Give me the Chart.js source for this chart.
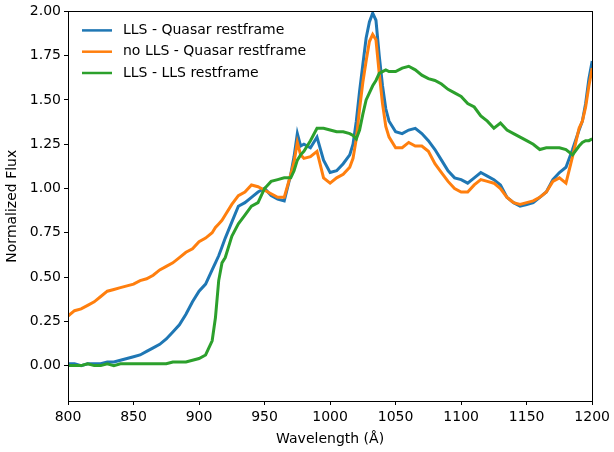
<!DOCTYPE html>
<html>
<head>
<meta charset="utf-8">
<title>Normalized Flux</title>
<script src="https://cdn.jsdelivr.net/npm/chart.js"></script>
<style>
  html, body { margin: 0; padding: 0; background: #fff; }
  #wrap { width: 614px; height: 452px; }
</style>
</head>
<body>
<div id="wrap"><canvas id="chart" width="614" height="452"></canvas></div>
<script>
// wavelength grid (Å)
const wavelength = [
  800, 805, 810, 815, 820, 825, 830, 835, 840, 845, 850, 855, 860, 865, 870, 875,
  880, 885, 890, 895, 900, 905, 910, 912.5, 915, 917.5, 920, 925, 930, 935, 940,
  945, 950, 955, 960, 965, 970, 972.5, 975, 977.5, 980, 985, 990, 995, 1000, 1005,
  1010, 1015, 1017.5, 1020, 1022.5, 1025, 1027.5, 1030, 1032.5, 1035, 1037.5, 1040,
  1042.5, 1045, 1050, 1055, 1060, 1065, 1070, 1075, 1080, 1085, 1090, 1095, 1100,
  1105, 1110, 1115, 1120, 1125, 1130, 1135, 1140, 1145, 1150, 1155, 1160, 1165,
  1170, 1175, 1180, 1185, 1190, 1192.5, 1195, 1197.5, 1200
];

// LLS - Quasar restframe
const llsQuasar = [
  0.01, 0.01, 0.00, 0.01, 0.01, 0.01, 0.02, 0.02, 0.03, 0.04, 0.05, 0.06, 0.08, 0.10, 0.12, 0.15,
  0.19, 0.23, 0.29, 0.36, 0.42, 0.46, 0.54, 0.58, 0.62, 0.67, 0.72, 0.81, 0.90, 0.92, 0.95,
  0.98, 1.00, 0.96, 0.94, 0.93, 1.08, 1.18, 1.31, 1.24, 1.25, 1.23, 1.29, 1.16, 1.09, 1.10,
  1.14, 1.19, 1.25, 1.38, 1.55, 1.70, 1.85, 1.94, 1.99, 1.95, 1.75, 1.58,
  1.45, 1.38, 1.32, 1.31, 1.33, 1.34, 1.31, 1.27, 1.22, 1.16, 1.10, 1.06, 1.05,
  1.03, 1.06, 1.09, 1.07, 1.05, 1.02, 0.95, 0.92, 0.90, 0.91, 0.92, 0.95, 0.98,
  1.05, 1.09, 1.12, 1.22, 1.33, 1.38, 1.48, 1.62, 1.72
];

// no LLS - Quasar restframe
const noLlsQuasar = [
  0.28, 0.31, 0.32, 0.34, 0.36, 0.39, 0.42, 0.43, 0.44, 0.45, 0.46, 0.48, 0.49, 0.51, 0.54, 0.56,
  0.58, 0.61, 0.64, 0.66, 0.70, 0.72, 0.75, 0.78, 0.80, 0.82, 0.85, 0.91, 0.96, 0.98, 1.02,
  1.01, 0.99, 0.97, 0.95, 0.95, 1.08, 1.15, 1.26, 1.19, 1.17, 1.18, 1.21, 1.06, 1.03, 1.06,
  1.08, 1.12, 1.17, 1.28, 1.45, 1.60, 1.72, 1.83, 1.87, 1.84, 1.65, 1.48,
  1.35, 1.29, 1.23, 1.23, 1.26, 1.24, 1.24, 1.21, 1.14, 1.09, 1.04, 1.00, 0.98,
  0.98, 1.02, 1.05, 1.04, 1.03, 1.00, 0.95, 0.92, 0.91, 0.92, 0.93, 0.95, 0.98,
  1.04, 1.06, 1.03, 1.18, 1.34, 1.38, 1.46, 1.58, 1.68
];

// LLS - LLS restframe
const llsLls = [
  0.00, 0.00, 0.00, 0.01, 0.00, 0.00, 0.01, 0.00, 0.01, 0.01, 0.01, 0.01, 0.01, 0.01, 0.01, 0.01,
  0.02, 0.02, 0.02, 0.03, 0.04, 0.06, 0.14, 0.27, 0.48, 0.58, 0.61, 0.73, 0.80, 0.85, 0.90,
  0.92, 1.00, 1.04, 1.05, 1.06, 1.06, 1.10, 1.16, 1.19, 1.21, 1.27, 1.34, 1.34, 1.33, 1.32,
  1.32, 1.31, 1.30, 1.28, 1.33, 1.42, 1.50, 1.54, 1.58, 1.61, 1.65, 1.66,
  1.67, 1.66, 1.66, 1.68, 1.69, 1.67, 1.64, 1.62, 1.61, 1.59, 1.56, 1.54, 1.52,
  1.48, 1.46, 1.41, 1.38, 1.34, 1.37, 1.33, 1.31, 1.29, 1.27, 1.25, 1.22, 1.23,
  1.23, 1.23, 1.22, 1.19, 1.24, 1.26, 1.27, 1.27, 1.28
];

const xTicks = [800, 850, 900, 950, 1000, 1050, 1100, 1150, 1200];
const yTicks = [0, 0.25, 0.5, 0.75, 1.0, 1.25, 1.5, 1.75, 2.0];

const seriesLabels = ['LLS - Quasar restframe', 'no LLS - Quasar restframe', 'LLS - LLS restframe'];
const seriesColors = ['#1f77b4', '#ff7f0e', '#2ca02c'];

const FONT = 'DejaVu Sans';
Chart.defaults.font.family = FONT;
Chart.defaults.font.size = 14;
Chart.defaults.color = '#000';

const toPoints = (ys) => wavelength.map((x, i) => ({ x: x, y: ys[i] }));

// box around the plot + legend inside the axes
const framePlugin = {
  id: 'frame',
  afterDraw(chart) {
    const { ctx, chartArea: a } = chart;
    ctx.save();
    ctx.strokeStyle = '#000';
    ctx.lineWidth = 1;
    ctx.strokeRect(Math.round(a.left) + 0.5, Math.round(a.top) + 0.5,
      Math.round(a.right - a.left), Math.round(a.bottom - a.top));

    ctx.font = '14px ' + FONT;
    ctx.textBaseline = 'middle';
    seriesLabels.forEach((label, i) => {
      const y = a.top + 19 + i * 21.3;
      ctx.strokeStyle = seriesColors[i];
      ctx.lineWidth = 2.5;
      ctx.beginPath();
      ctx.moveTo(a.left + 14, y);
      ctx.lineTo(a.left + 44, y);
      ctx.stroke();
      ctx.fillStyle = '#000';
      ctx.fillText(label, a.left + 55, y);
    });
    ctx.restore();
  }
};

const ctx = document.getElementById('chart').getContext('2d');
const chart = new Chart(ctx, {
  type: 'line',
  data: {
    datasets: [
      { label: seriesLabels[0], data: toPoints(llsQuasar), borderColor: seriesColors[0], order: 3 },
      { label: seriesLabels[1], data: toPoints(noLlsQuasar), borderColor: seriesColors[1], order: 2 },
      { label: seriesLabels[2], data: toPoints(llsLls), borderColor: seriesColors[2], order: 1 }
    ]
  },
  options: {
    responsive: false,
    animation: false,
    elements: {
      line: { borderWidth: 3, tension: 0, fill: false },
      point: { radius: 0 }
    },
    layout: { padding: { top: 11, right: 21, left: 0, bottom: 0 } },
    plugins: {
      legend: { display: false },
      tooltip: { enabled: false }
    },
    scales: {
      x: {
        type: 'linear',
        min: 800,
        max: 1200,
        afterBuildTicks: (axis) => { axis.ticks = xTicks.map(v => ({ value: v })); },
        afterFit: (axis) => { axis.height = 51; },
        ticks: { callback: (v) => String(v), padding: 4, maxRotation: 0 },
        grid: { drawOnChartArea: false, tickLength: 4, color: '#000' },
        border: { display: true, color: '#000' },
        title: { display: true, text: 'Wavelength (Å)', padding: { top: 1 } }
      },
      y: {
        type: 'linear',
        min: -0.2,
        max: 2.0,
        afterBuildTicks: (axis) => { axis.ticks = yTicks.map(v => ({ value: v })); },
        afterFit: (axis) => { axis.width = 68; },
        ticks: { callback: (v) => Number(v).toFixed(2), padding: 3 },
        grid: { drawOnChartArea: false, tickLength: 4, color: '#000' },
        border: { display: true, color: '#000' },
        title: { display: true, text: 'Normalized Flux', padding: { bottom: 2 } }
      }
    }
  },
  plugins: [framePlugin]
});
</script>
</body>
</html>
